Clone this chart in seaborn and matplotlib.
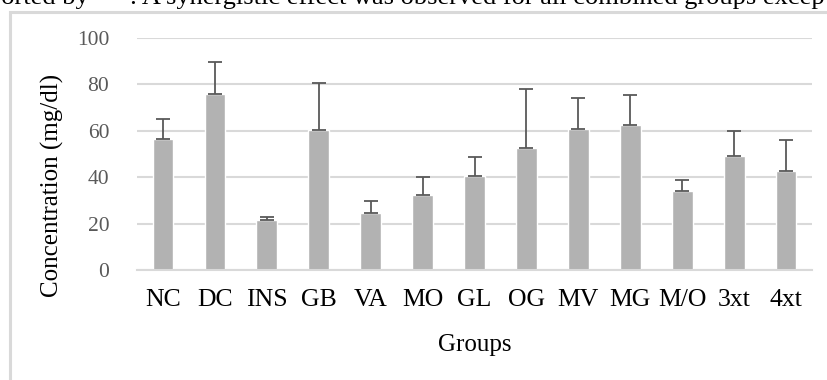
import matplotlib
matplotlib.use("Agg")
import matplotlib.pyplot as plt
import seaborn as sns
import pandas as pd
import numpy as np
from matplotlib.patches import Rectangle

groups = ["NC", "DC", "INS", "GB", "VA", "MO", "GL", "OG", "MV", "MG", "M/O", "3xt", "4xt"]
means = [56.5, 76.0, 21.6, 60.4, 24.6, 32.4, 40.6, 52.7, 60.9, 62.6, 34.1, 49.2, 42.7]
errors = [8.7, 13.5, 1.4, 20.2, 5.2, 7.5, 8.0, 25.3, 13.2, 12.7, 4.6, 10.5, 13.3]
yticks = [0, 20, 40, 60, 80, 100]

sns.set_theme(style="white")
plt.rcParams["font.family"] = ["Liberation Serif", "DejaVu Serif"]

df = pd.DataFrame({"Groups": groups, "Concentration": means})

fig = plt.figure(figsize=(8.27, 3.8), dpi=100)
W, H = 827, 380
ax = fig.add_axes([137 / W, 1 - 270 / H, (812 - 137) / W, (270 - 38) / H])

sns.barplot(data=df, x="Groups", y="Concentration", color="#b2b2b2",
            saturation=1, width=0.4, ax=ax, zorder=2)
xpos = np.arange(len(groups))
ax.errorbar(xpos, means, yerr=[np.zeros(len(errors)), errors], fmt="none",
            ecolor="#595959", elinewidth=1.3, capsize=5, capthick=1.3, zorder=3)

ax.set_ylim(0, 100)
ax.set_xlim(-0.5, len(groups) - 0.5)
ax.set_yticks(yticks)
ax.set_yticklabels([str(v) for v in yticks], fontsize=15.5, color="#595959")
ax.tick_params(axis="x", labelsize=18.5, colors="black", length=0, pad=14)
ax.tick_params(axis="y", length=0, pad=20)
ax.yaxis.grid(True, color="#d9d9d9", linewidth=1.5, zorder=0)
ax.set_axisbelow(True)
for s in ["top", "right", "left"]:
    ax.spines[s].set_visible(False)
ax.spines["bottom"].set_color("#d9d9d9")
ax.spines["bottom"].set_linewidth(1.5)

ax.set_xlabel("Groups", fontsize=18, color="black", labelpad=16)
ax.set_ylabel("")
fig.text(52 / W, 1 - 185 / H, "Concentration (mg/dl)", rotation=90,
         fontsize=18, ha="center", va="center", color="black")

# chart border box (partly outside the image)
fig.patches.append(Rectangle((10 / W, -0.1), 1.2, 1 - 12 / H + 0.1,
                             transform=fig.transFigure, fill=False,
                             edgecolor="#d9d9d9", linewidth=2.2))

# cut-off text line at the very top (as in the reference)
fig.text(-12 / W, 1 - 4 / H,
         'ported by "*". A synergistic effect was observed for all combined groups excep',
         fontsize=19, ha="left", va="baseline", color="black")

fig.savefig("out.png", dpi=100)
